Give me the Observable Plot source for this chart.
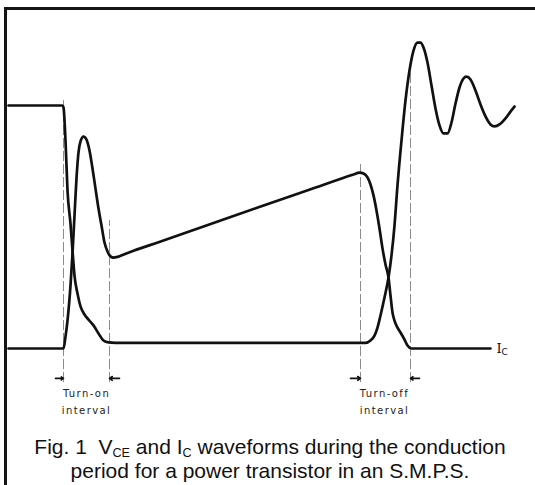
<!DOCTYPE html>
<html>
<head>
<meta charset="utf-8">
<script src="https://cdn.jsdelivr.net/npm/d3@7"></script>
<script src="https://cdn.jsdelivr.net/npm/@observablehq/plot@0.6"></script>
<style>
  html, body { margin: 0; padding: 0; background: #fff; }
  #wrap { position: relative; width: 535px; height: 485px; overflow: hidden; background: #fff; }
  #frame { position: absolute; left: 4px; top: 7px; right: -10px; bottom: -10px;
           border-left: 3px solid #151515; border-top: 3px solid #151515; }
  #chart { position: absolute; left: 0; top: 0; }
  #chart svg text.lbl { letter-spacing: 1.4px; }
  #caption { position: absolute; left: 5px; right: 0; top: 435px; text-align: center;
             font-family: "Liberation Sans", Arial, sans-serif; font-size: 21px; line-height: 24px; color: #111; }
  #caption sub { font-size: 0.6em; vertical-align: -0.25em; line-height: 0; }
</style>
</head>
<body>
<div id="wrap">
  <div id="frame"></div>
  <div id="chart"></div>
  <div id="caption">Fig. 1&nbsp; V<sub>CE</sub> and I<sub>C</sub> waveforms during the conduction<br>period for a power transistor in an S.M.P.S.</div>
</div>
<script>
// Time (arbitrary units) and amplitude (% of supply level)
const vceT = [0, 54, 55, 57, 59, 62, 64, 66, 69, 72, 76, 80, 85, 90, 95, 100, 107, 357, 362, 366, 369, 372, 376, 380, 383, 386, 389, 393, 397, 401, 405, 409, 412, 415, 419, 423, 427, 431, 435, 439, 443, 447, 451, 455, 458, 462, 467, 472, 477, 482, 486, 491, 497, 502, 506];
const vceV = [100, 100, 99.2, 85.6, 65.0, 51.4, 40.3, 30.0, 22.6, 17.3, 14.0, 11.9, 9.5, 6.2, 3.3, 2.5, 2.3, 2.3, 3.3, 5.3, 8.6, 13.6, 21.0, 29.2, 38.3, 50.6, 67.1, 85.6, 102.1, 114.4, 122.6, 125.9, 125.9, 123.9, 117.7, 108.2, 98.8, 91.8, 88.5, 88.5, 93.0, 100.8, 107.4, 111.1, 111.9, 110.7, 106.2, 100.4, 95.5, 92.2, 91.4, 92.2, 94.7, 97.5, 99.6];

const icT = [0, 55, 57, 59, 62, 64, 66, 68, 70, 72, 75, 78, 81, 84, 87, 90, 93, 96, 99, 102, 105, 109, 114, 125, 150, 200, 250, 300, 345, 351, 355, 359, 362, 365, 368, 371, 374, 377, 380, 382, 384, 386, 389, 392, 396, 399, 403, 482];
const icV = [0, 0, 4.9, 11.5, 25.9, 39.1, 54.7, 70.0, 80.7, 85.2, 87.2, 86.0, 81.5, 74.1, 65.8, 57.6, 50.6, 43.6, 39.9, 37.9, 37.4, 37.7, 38.5, 40.2, 43.75, 50.9, 58.1, 65.2, 71.6, 72.4, 72.0, 70.4, 67.5, 63.0, 56.8, 49.4, 41.2, 34.6, 29.2, 21.8, 14.8, 11.5, 8.6, 6.6, 3.7, 1.2, 0, 0];

// Interval boundaries (dashed guides)
const guideT = [55, 101, 352, 402];
const guideTop = [102, 52.7, 76.5, 113.6];
const guideBottom = -14;

// Interval arrows (from, to) at arrow level
const arrowFrom = [47, 111, 342, 411];
const arrowTo = [55, 101, 352, 402];
const arrowLevel = -12.3;

// Interval labels
const labelLines = ["Turn-on", "interval", "Turn-off", "interval"];
const labelT = [78, 78, 376, 376];
const labelV = [-18.5, -25.5, -18.5, -25.5];

// Curve label
const curveLabel = {main: "I", sub: "C", t: 488, v: 0};

const vce = vceT.map((t, i) => ({t, v: vceV[i]}));
const ic = icT.map((t, i) => ({t, v: icV[i]}));
const guides = guideT.map((t, i) => ({t, top: guideTop[i], bottom: guideBottom}));
const arrows = arrowFrom.map((f, i) => ({x1: f, x2: arrowTo[i], y: arrowLevel}));
const labels = labelLines.map((s, i) => ({s, t: labelT[i], v: labelV[i]}));

const chart = Plot.plot({
  width: 535,
  height: 420,
  margin: 0,
  x: {domain: [0, 506], range: [8, 514], axis: null},
  y: {domain: [0, 100], range: [348, 105], axis: null},
  style: {background: "transparent", overflow: "visible"},
  marks: [
    Plot.ruleX(guides, {x: "t", y1: "bottom", y2: "top", stroke: "#8c8c8c", strokeWidth: 1, strokeDasharray: "10,3"}),
    Plot.line(ic, {x: "t", y: "v", curve: "monotone-x", stroke: "#111", strokeWidth: 2.7, strokeLinejoin: "round"}),
    Plot.line(vce, {x: "t", y: "v", curve: "monotone-x", stroke: "#111", strokeWidth: 2.7, strokeLinejoin: "round"}),
    Plot.arrow(arrows, {x1: "x1", x2: "x2", y1: "y", y2: "y", stroke: "#111", strokeWidth: 1.6, headLength: 5, headAngle: 70}),
    Plot.text(labels, {x: "t", y: "v", text: "s", fontSize: 10, fill: "#222", fontFamily: "DejaVu Sans, sans-serif"}),
    Plot.text([curveLabel], {x: "t", y: "v", text: "main", fontSize: 13, textAnchor: "start", fill: "#111", fontFamily: "DejaVu Serif, serif"}),
    Plot.text([curveLabel], {x: "t", y: "v", text: "sub", fontSize: 9, textAnchor: "start", dx: 5, dy: 4, fill: "#111", fontFamily: "DejaVu Sans, sans-serif"})
  ]
});
chart.querySelectorAll("g[aria-label='text'] text").forEach(el => {
  if (el.textContent.length > 2) el.setAttribute("class", "lbl");
});
document.getElementById("chart").appendChild(chart);
</script>
</body>
</html>
